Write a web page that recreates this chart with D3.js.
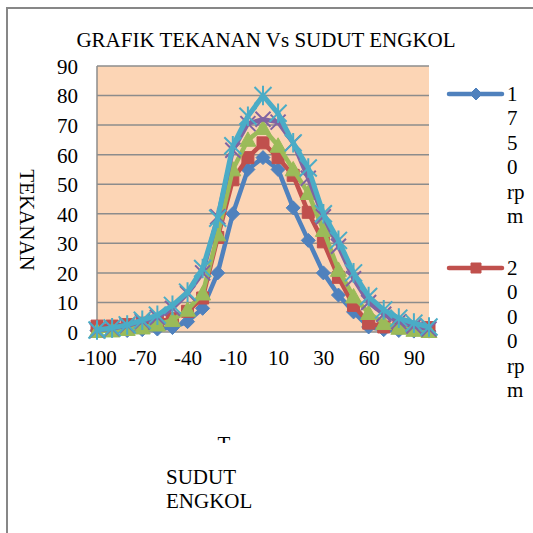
<!DOCTYPE html>
<html>
<head>
<meta charset="utf-8">
<script src="https://cdn.jsdelivr.net/npm/d3@7"></script>
<style>
  body { margin: 0; background: #fff; }
  text { font-family: "Liberation Serif", serif; fill: #000; }
</style>
</head>
<body>
<div id="chart-area"></div>
<script>
// crank angle categories (only every third one gets a label)
const sudut = [-100, -90, -80, -70, -60, -50, -40, -30, -20, -10, 0, 5, 10, 15, 20, 30, 40, 50, 60, 70, 80, 90, 100];
const yTicks = [0, 10, 20, 30, 40, 50, 60, 70, 80, 90];
const seriesNames = ["1750 rpm", "2000 rpm", "2250 rpm", "2500 rpm", "2750 rpm"];

const rpm1750 = [0.5, 0.5, 0.5, 0.8, 1, 1.5, 3.5, 8, 20, 40, 55, 59, 55, 42, 31, 20, 12.5, 6.8, 1.7, 0.8, 0.5, 0.3, 0.3];
const rpm2000 = [2, 2, 2.5, 3, 3.5, 4.5, 7, 11.5, 32, 51.5, 59, 64, 59, 53, 40.5, 30.5, 18.5, 9, 3, 1.7, 1.5, 1.5, 1.5];
const rpm2250 = [0.3, 0.5, 1, 1.5, 2.5, 4, 7.5, 13, 33, 55, 65, 69, 63, 55, 47, 34.5, 21, 12, 6.4, 3, 1.4, 0.7, 0.3];
const rpm2500 = [0.5, 1.2, 2.2, 3.5, 5, 8, 13, 20, 39, 61.5, 70.5, 72, 71, 64, 52, 39, 29, 18, 10, 6, 3.5, 2, 1];
const rpm2750 = [0.7, 1.4, 2.4, 4, 5.7, 9, 13.5, 21.5, 38.5, 63, 73, 80, 74, 64, 55.5, 40, 31, 20, 12, 7.5, 4.7, 3, 1.7];

const allSeries = [rpm1750, rpm2000, rpm2250, rpm2500, rpm2750];
const colors = ["#4F81BD", "#C0504D", "#9BBB59", "#8064A2", "#4BACC6"];
const markers = ["diamond", "square", "triangle", "x", "star"];

const width = 533, height = 533;
const plot = {left: 97, right: 429, top: 66, bottom: 332};
const FONT = "Liberation Serif";

const svg = d3.select("#chart-area").append("svg")
    .attr("width", width)
    .attr("height", height);

// outer chart border (only top and left are visible)
svg.append("path")
    .attr("d", "M7,533 L7,8 L533,8")
    .attr("fill", "none")
    .attr("stroke", "#878787")
    .attr("stroke-width", 2);

const x = d3.scalePoint()
    .domain(sudut)
    .range([plot.left, plot.right]);

const y = d3.scaleLinear()
    .domain([0, 90])
    .range([plot.bottom, plot.top]);

// plot background
svg.append("rect")
    .attr("x", plot.left)
    .attr("y", plot.top)
    .attr("width", plot.right - plot.left)
    .attr("height", plot.bottom - plot.top)
    .attr("fill", "#FCD5B5");

// gridlines
svg.selectAll(".grid")
    .data(yTicks)
    .enter()
    .append("line")
    .attr("x1", plot.left)
    .attr("x2", plot.right)
    .attr("y1", d => y(d))
    .attr("y2", d => y(d))
    .attr("stroke", "#8c8c8c")
    .attr("stroke-width", 1.5);

// axis line
svg.append("line")
    .attr("x1", plot.left).attr("x2", plot.left)
    .attr("y1", plot.top).attr("y2", plot.bottom)
    .attr("stroke", "#8c8c8c").attr("stroke-width", 1.5);

const yAxis = svg.append("g")
    .attr("transform", "translate(" + (plot.left - 19) + ",0)")
    .call(d3.axisLeft(y).tickValues(yTicks).tickSize(0).tickPadding(0));
yAxis.attr("font-family", FONT);
yAxis.select(".domain").remove();
yAxis.selectAll("text")
    .attr("font-size", 21)
    .attr("font-family", FONT)
    .attr("dy", "0.35em");

const xAxis = svg.append("g")
    .attr("transform", "translate(0," + plot.bottom + ")")
    .call(d3.axisBottom(x)
        .tickValues(sudut.filter((d, i) => i % 3 === 0))
        .tickSize(0)
        .tickPadding(0));
xAxis.attr("font-family", FONT);
xAxis.select(".domain").remove();
xAxis.selectAll("text")
    .attr("font-size", 21)
    .attr("font-family", FONT)
    .attr("dy", 0)
    .attr("y", 33);

// markers
function markerPath(type, s) {
    const h = s / 2;
    switch (type) {
        case "diamond":
            return `M0,${-h} L${h},0 L0,${h} L${-h},0 Z`;
        case "square":
            return `M${-h},${-h} H${h} V${h} H${-h} Z`;
        case "triangle":
            return `M0,${-h} L${h},${h * 0.8} L${-h},${h * 0.8} Z`;
        case "x":
            return `M${-h},${-h} L${h},${h} M${h},${-h} L${-h},${h}`;
        case "star":
            return `M${-h},${-h} L${h},${h} M${h},${-h} L${-h},${h} M0,${-h * 1.15} V${h * 1.15}`;
    }
}
const markerSize = {diamond: 14, square: 12, triangle: 16, x: 15, star: 17};

const line = d3.line()
    .x((d, i) => x(sudut[i]))
    .y(d => y(d));

allSeries.forEach((vals, k) => {
    const g = svg.append("g");
    g.append("path")
        .datum(vals)
        .attr("d", line)
        .attr("fill", "none")
        .attr("stroke", colors[k])
        .attr("stroke-width", k === 4 ? 5 : 4.5)
        .attr("stroke-linejoin", "round")
        .attr("stroke-linecap", "round");

    const filled = markers[k] === "diamond" || markers[k] === "square" || markers[k] === "triangle";
    g.selectAll(".mk")
        .data(vals)
        .enter()
        .append("path")
        .attr("transform", (d, i) => "translate(" + x(sudut[i]) + "," + y(d) + ")")
        .attr("d", markerPath(markers[k], markerSize[markers[k]]))
        .attr("fill", filled ? colors[k] : "none")
        .attr("stroke", colors[k])
        .attr("stroke-width", filled ? 1 : 2);
});

// title
svg.append("text")
    .attr("x", 266)
    .attr("y", 47)
    .attr("text-anchor", "middle")
    .attr("font-family", FONT)
    .attr("font-size", 21)
    .text("GRAFIK TEKANAN Vs SUDUT ENGKOL");

// y axis title
svg.append("text")
    .attr("transform", "translate(20,220) rotate(90)")
    .attr("text-anchor", "middle")
    .attr("font-family", FONT)
    .attr("font-size", 21)
    .text("TEKANAN");

// x axis title (wrapped)
const xTitle = svg.append("text")
    .attr("font-family", FONT)
    .attr("font-size", 21);
xTitle.append("tspan").attr("x", 166).attr("y", 484).text("SUDUT");
xTitle.append("tspan").attr("x", 166).attr("y", 508).text("ENGKOL");

// stray clipped glyph above the axis title
svg.append("clipPath").attr("id", "tclip")
    .append("rect").attr("x", 200).attr("y", 436).attr("width", 50).attr("height", 7);
svg.append("text")
    .attr("clip-path", "url(#tclip)")
    .attr("x", 224)
    .attr("y", 451)
    .attr("text-anchor", "middle")
    .attr("font-family", FONT)
    .attr("font-size", 21)
    .text("T");

// legend: narrow column, names wrap character by character, only two entries fit
const legend = svg.append("g");

function wrapName(name, maxW) {
    const probe = svg.append("text").attr("font-family", FONT).attr("font-size", 21);
    const lines = [];
    let cur = "";
    for (const ch of name) {
        if (ch === " ") {
            if (cur) lines.push(cur);
            cur = "";
            continue;
        }
        probe.text(cur + ch);
        if (cur && probe.node().getComputedTextLength() > maxW) {
            lines.push(cur);
            cur = ch;
        } else {
            cur += ch;
        }
    }
    if (cur) lines.push(cur);
    probe.remove();
    return lines;
}

const legendTop = 94, entryGap = 174, lineGap = 24.4;
seriesNames.slice(0, 2).forEach((name, k) => {
    const ly = legendTop + k * entryGap;
    legend.append("line")
        .attr("x1", 449).attr("x2", 502)
        .attr("y1", ly).attr("y2", ly)
        .attr("stroke", colors[k])
        .attr("stroke-width", 4.5)
        .attr("stroke-linecap", "round");
    legend.append("path")
        .attr("transform", "translate(476," + ly + ")")
        .attr("d", markerPath(markers[k], markerSize[markers[k]] - 2))
        .attr("fill", colors[k])
        .attr("stroke", colors[k]);
    const t = legend.append("text").attr("font-family", FONT).attr("font-size", 21);
    wrapName(name, 19).forEach((s, j) => {
        t.append("tspan")
            .attr("x", 507)
            .attr("y", ly + 7 + j * lineGap)
            .text(s);
    });
});
</script>
</body>
</html>
